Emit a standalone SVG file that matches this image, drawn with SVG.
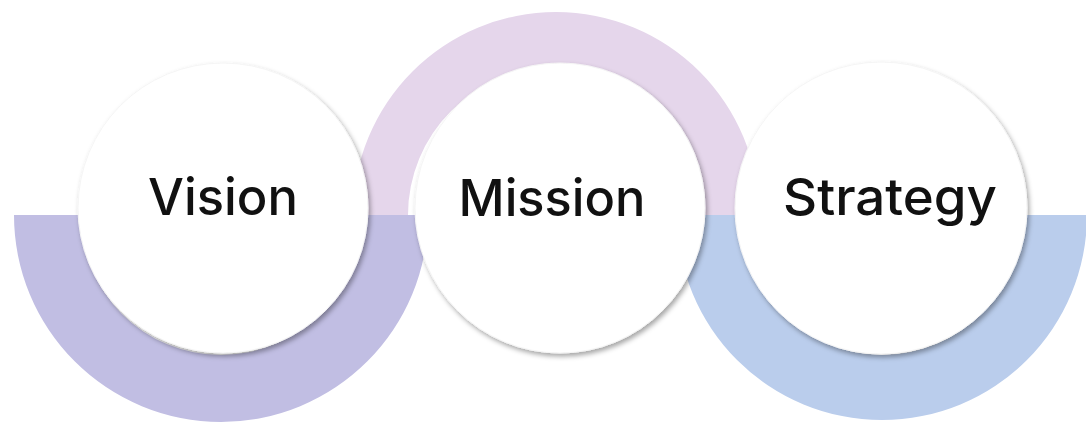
<svg xmlns="http://www.w3.org/2000/svg" width="1086" height="426" viewBox="0 0 1086 426">
  <defs>
    <filter id="shadow" x="-20%" y="-20%" width="140%" height="140%">
      <feDropShadow dx="2" dy="3" stdDeviation="2.5" flood-color="#000" flood-opacity="0.35"/>
    </filter>
    <style>
      .node { fill: #ffffff; stroke: #f5f5f5; stroke-width: 1; filter: url(#shadow); }
      .label { font-family: Inter, "Noto Sans", "Liberation Sans", sans-serif; font-size: 51px; font-weight: 500; fill: #111111; text-anchor: middle; }
    </style>
  </defs>
  <rect width="1086" height="426" fill="#ffffff"/>
  <g id="bands">
    <path d="M 14,215 A 207 207 0 0 0 428,215 L 361,215 A 140 140 0 0 1 81,215 Z" fill="#c1bee3"/>
    <path d="M 353,215 A 203 203 0 0 1 759,215 L 702,215 A 147 147 0 0 0 408,215 Z" fill="#e5d6eb"/>
    <path d="M 677,215 A 205 205 0 0 0 1087,215 L 1022,215 A 140 140 0 0 1 742,215 Z" fill="#bacdec"/>
  </g>
  <g id="connectors"/>
  <g id="vision">
    <circle class="node" cx="223" cy="208" r="145"/>
    <text class="label" x="223" y="215" textLength="150" lengthAdjust="spacingAndGlyphs">Vision</text>
  </g>
  <g id="mission">
    <circle class="node" cx="560" cy="208" r="145"/>
    <text class="label" x="552" y="216" textLength="187" lengthAdjust="spacingAndGlyphs">Mission</text>
  </g>
  <g id="strategy">
    <circle class="node" cx="881" cy="208" r="146"/>
    <text class="label" x="890" y="215" textLength="214" lengthAdjust="spacingAndGlyphs">Strategy</text>
  </g>
</svg>
